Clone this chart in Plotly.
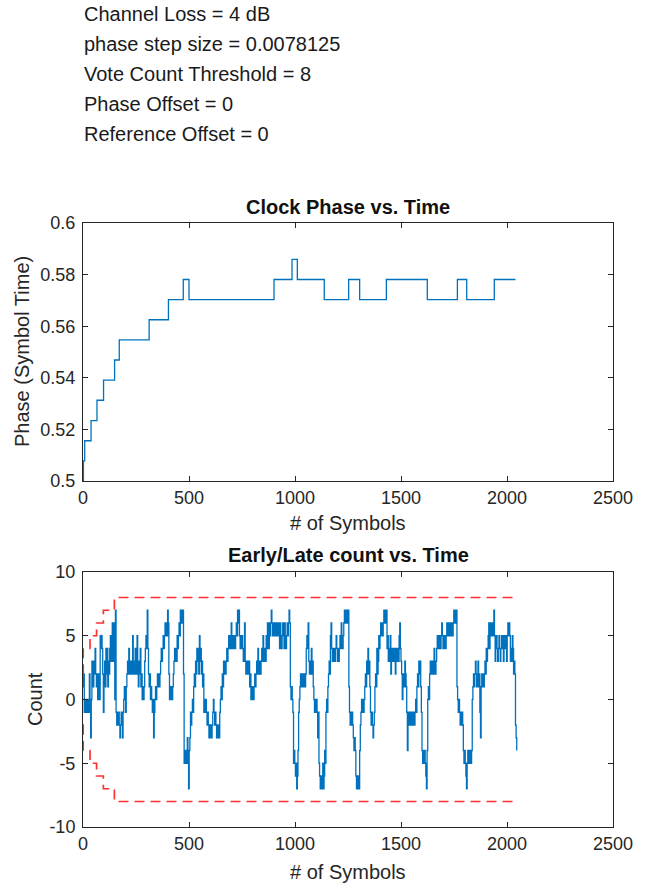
import numpy as np
import plotly.graph_objects as go

# ---------------- data ----------------
info_lines = [
    "Channel Loss = 4 dB",
    "phase step size = 0.0078125",
    "Vote Count Threshold = 8",
    "Phase Offset = 0",
    "Reference Offset = 0",
]

# Clock phase (step changes)
phase_x = [0, 2, 8, 38, 66, 97, 149, 171, 312, 403, 473, 500, 901, 986, 1011,
           1138, 1253, 1305, 1431, 1624, 1766, 1810, 1940, 2040]
phase_y = [0.5, 0.5078, 0.5156, 0.5234, 0.5313, 0.5391, 0.5469, 0.5547, 0.5625,
           0.5703, 0.5781, 0.5703, 0.5781, 0.5859, 0.5781, 0.5703, 0.5781, 0.5703,
           0.5781, 0.5703, 0.5781, 0.5703, 0.5781, 0.5781]

# Early/late vote count, read every 3 symbols
count_step = 3
count_y = [
    1, 2, -1, 0, -1, 0, -1, 0, -1, 0, 2, -1, -3, 0, 3, 2, 1, 3, 2, 4,
    2, 1, 2, 0, 2, 1, 0, 5, 4, 5, 4, 2, -1, 1, 3, 1, 4, 2, 4, 1,
    3, 2, 4, 5, 3, 4, 6, 3, 6, 5, 0, 7, -1, -2, -1, -2, -1, -2, -3, -2,
    -1, -2, -3, -1, 0, 1, 0, -1, 1, 2, 3, 2, 4, 2, 3, 2, 3, 2, 5, 3,
    2, 3, 4, 2, 3, 5, 2, 1, 3, 2, 4, 1, 2, 0, 1, 0, 1, 3, 4, 5,
    4, 7, 4, 2, 1, 2, 0, 1, 0, -1, 0, -3, -1, 0, 1, 0, 1, 2, 1, 2,
    1, 2, 3, 4, 3, 4, 5, 4, 5, 6, 5, 6, 5, 7, 6, 2, 0, 1, 0, 1,
    0, 1, 2, 3, 4, 3, 4, 3, 5, 4, 5, 6, 5, 7, 6, 7, 6, 7, 2, -5,
    -4, -5, -4, -5, -3, -4, -7, -4, -3, -1, -2, -1, 0, -1, 1, 2, 1, 3, 2, 4,
    3, 4, 2, 5, 3, 4, 2, 3, 1, 2, -1, 0, -1, 0, -1, -2, -1, -2, -3, -2,
    -3, -2, -3, -2, -1, 0, -1, -2, -1, -2, -3, -2, -3, -2, -3, -1, 0, 1, 0, 2,
    1, 3, 2, 3, 2, 3, 4, 3, 4, 5, 4, 5, 4, 6, 5, 4, 5, 4, 5, 4,
    5, 6, 5, 7, 6, 7, 5, 4, 5, 4, 5, 4, 3, 4, 6, 3, 2, 3, 2, 3,
    2, 3, 1, 2, 0, 1, 0, 1, 0, 1, 2, 1, 2, 3, 2, 4, 3, 2, 3, 2,
    3, 4, 3, 5, 4, 3, 4, 3, 5, 4, 6, 5, 4, 6, 5, 6, 7, 6, 5, 6,
    5, 6, 5, 6, 5, 6, 5, 6, 5, 4, 6, 5, 4, 5, 6, 5, 4, 6, 5, 4,
    5, 6, 5, 6, 7, 6, 1, 0, 1, 0, -1, -5, -4, -5, -6, -5, -7, -6, -4, -1,
    0, 1, 2, 1, 2, 1, 2, 1, 2, 1, 2, 4, 5, 4, 6, 3, 2, 3, 2, 4,
    2, 3, 1, 0, -1, 0, -1, 0, -1, -3, -1, -5, -6, -7, -6, -7, -6, -5, -7, -6,
    -4, -5, -1, 0, -1, 1, 2, 3, 2, 5, 6, 4, 3, 4, 3, 4, 3, 4, 5, 4,
    3, 4, 3, 4, 5, 4, 6, 5, 4, 5, 6, 7, 6, 7, 6, 7, 6, 7, 1, -1,
    -2, -1, -2, -1, -2, -3, -4, -3, -4, -6, -7, -6, -7, -6, -7, -4, -2, -1, 0, -1,
    0, -1, 0, 1, 2, 1, 3, 2, 4, 2, 3, 1, -1, -2, -1, -2, -3, -2, -1, 1,
    2, 1, 4, 2, 3, 5, 4, 5, 6, 5, 6, 5, 6, 7, 6, 7, 6, 7, 4, 5,
    3, 4, 3, 5, 2, 3, 4, 3, 4, 3, 4, 2, 3, 4, 3, 4, 3, 5, 6, 4,
    3, 2, 0, 1, 2, 1, 3, 2, 1, -1, -4, -2, -1, -2, -1, -2, -1, -2, -1, -2,
    -1, -2, -1, 0, -1, 1, 2, 1, 3, 2, 3, 1, -1, -4, -5, -4, -5, -4, -5, -6,
    -7, -4, 0, 1, 0, 2, 3, 2, 3, 2, 3, 2, 4, 3, 2, 3, 4, 5, 4, 5,
    4, 5, 4, 5, 6, 5, 4, 5, 4, 5, 4, 5, 6, 5, 6, 5, 6, 5, 6, 5,
    6, 5, 6, 7, 6, 7, 6, 7, 1, 0, -1, 0, -1, -2, -1, -2, -1, -2, -4, -5,
    -4, -5, -6, -7, -5, -4, -5, -4, -5, -4, -5, -4, 0, 1, 2, 1, 2, 3, 2, 1,
    2, 3, 1, 2, -1, -3, 1, 2, 1, 2, 1, 2, 3, 2, 4, 3, 4, 5, 6, 4,
    5, 6, 5, 6, 5, 6, 7, 5, 3, 4, 5, 4, 3, 4, 5, 4, 3, 4, 5, 4,
    5, 3, 4, 5, 4, 5, 3, 5, 6, 5, 6, 5, 3, 4, 3, 5, 4, 2, 3, 2,
    -2, -3, -4,
]
count_x = [i * count_step for i in range(len(count_y))]

# Vote count threshold (upper / lower)
thr_x = [0, 1, 33, 64, 96, 148, 2047]
thr_upper = [2, 4, 5, 6, 7, 8, 8]
thr_lower = [-2, -4, -5, -6, -7, -8, -8]

# ticks
x_ticks = [0, 500, 1000, 1500, 2000, 2500]
phase_ticks = [0.5, 0.52, 0.54, 0.56, 0.58, 0.6]
phase_tick_text = ["0.5", "0.52", "0.54", "0.56", "0.58", "0.6"]
count_ticks = [-10, -5, 0, 5, 10]
count_tick_text = ["-10", "-5", "0", "5", "10"]

# ---------------- figure ----------------
W, H = 647, 888
BLUE = "#0072BD"
AX = "#262626"
FONT = "Liberation Sans, Arial, Helvetica, sans-serif"

fig = go.Figure()
fig.add_trace(go.Scatter(x=phase_x, y=phase_y, mode="lines", line_shape="hv",
                         line=dict(color=BLUE, width=1.3), xaxis="x", yaxis="y",
                         showlegend=False, hoverinfo="skip"))
fig.add_trace(go.Scatter(x=count_x, y=count_y, mode="lines", line_shape="hv",
                         line=dict(color=BLUE, width=1.3), xaxis="x2", yaxis="y2",
                         showlegend=False, hoverinfo="skip"))
for ty in (thr_upper, thr_lower):
    fig.add_trace(go.Scatter(x=thr_x, y=ty, mode="lines", line_shape="hv",
                             line=dict(color="#FF3030", width=1.7, dash="10px,6px"),
                             xaxis="x2", yaxis="y2", showlegend=False, hoverinfo="skip"))

xd = [83 / W, 613 / W]
top_dom = [1 - 481 / H, 1 - 223 / H]
bot_dom = [1 - 827 / H, 1 - 572 / H]

axis_common = dict(showline=True, mirror="ticks", linecolor=AX, linewidth=1,
                   ticks="inside", ticklen=5, tickcolor=AX, tickwidth=1,
                   showgrid=False, zeroline=False, automargin=False,
                   tickfont=dict(family=FONT, size=18, color=AX))

fig.update_layout(
    width=W, height=H,
    margin=dict(l=0, r=0, t=0, b=0),
    paper_bgcolor="white", plot_bgcolor="white",
    xaxis=dict(domain=xd, range=[0, 2500], tickvals=x_ticks, anchor="y", **axis_common),
    yaxis=dict(domain=top_dom, range=[0.5, 0.6], tickvals=phase_ticks,
               ticktext=phase_tick_text, anchor="x", ticklabelstandoff=3, **axis_common),
    xaxis2=dict(domain=xd, range=[0, 2500], tickvals=x_ticks, anchor="y2", **axis_common),
    yaxis2=dict(domain=bot_dom, range=[-10, 10], tickvals=count_ticks,
                ticktext=count_tick_text, anchor="x2", ticklabelstandoff=3, **axis_common),
)

def px(xp):
    return xp / W

def py(yp):
    return 1 - yp / H

def note(x, y, text, size=20, color=AX, xanchor="center", angle=0):
    return dict(x=px(x), y=py(y), xref="paper", yref="paper", text=text,
                showarrow=False, xanchor=xanchor, yanchor="middle", textangle=angle,
                font=dict(family=FONT, size=size, color=color))

ann = []
for i, line in enumerate(info_lines):
    ann.append(note(82, 14 + 30 * i, line, size=20, color="#1a1a1a", xanchor="left"))

cx = (83 + 613) / 2
ann += [
    note(cx, 207, "<b>Clock Phase vs. Time</b>", color="#111111"),
    note(cx, 555, "<b>Early/Late count vs. Time</b>", color="#111111"),
    note(cx, 523, "# of Symbols"),
    note(cx, 872, "# of Symbols"),
    note(22, 352, "Phase (Symbol Time)", angle=-90),
    note(35, 699, "Count", angle=-90),
]
fig.update_layout(annotations=ann)

fig.write_html("out.html")
